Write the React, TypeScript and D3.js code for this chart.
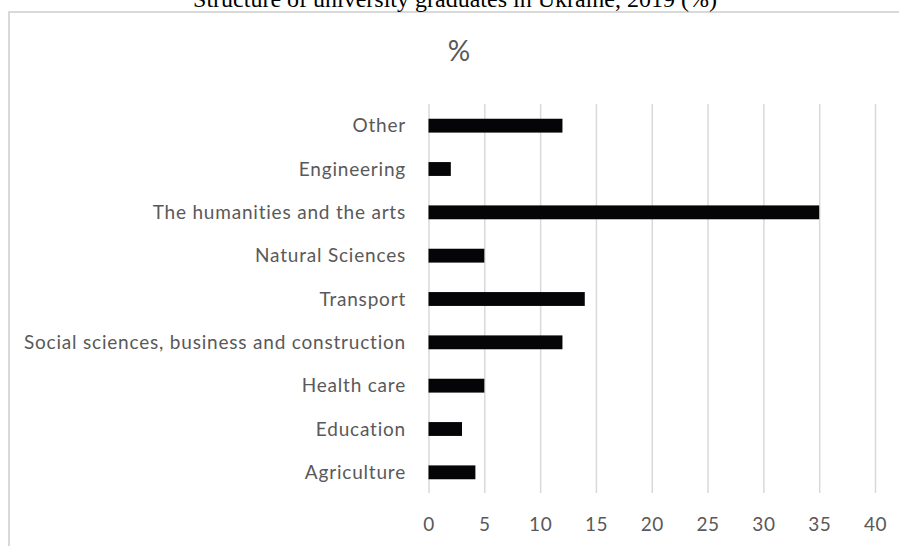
import React, { useRef, useEffect } from 'react';
import * as d3 from 'd3';

// top to bottom, as shown
const categories = [
  'Other',
  'Engineering',
  'The humanities and the arts',
  'Natural Sciences',
  'Transport',
  'Social sciences, business and construction',
  'Health care',
  'Education',
  'Agriculture',
];
const shares = [12, 2, 35, 5, 14, 12, 5, 3, 4.2];
const xTicks = [0, 5, 10, 15, 20, 25, 30, 35, 40];

const W = 899;
const H = 546;
const LABEL_FONT = 'Lato, "Open Sans", sans-serif';

const App: React.FC = () => {
  const svgRef = useRef<SVGSVGElement>(null);

  useEffect(() => {
    if (!svgRef.current) return;
    const svg = d3.select(svgRef.current);
    svg.selectAll('*').remove();

    const plot = { left: 428.5, right: 875, top: 104, bottom: 494 };

    const x = d3.scaleLinear().domain([0, 40]).range([plot.left, plot.right]);
    const y = d3.scaleBand<string>()
      .domain(categories)
      .range([plot.top, plot.bottom])
      .paddingInner(0.68)
      .paddingOuter(0.34);

    // chart area frame (only the top and left edges are in the crop)
    svg.append('path')
      .attr('d', `M9,${H + 5}V12H${W + 5}`)
      .attr('fill', 'none')
      .attr('stroke', '#d9d9d9')
      .attr('stroke-width', 2);

    // title, mostly cut off at the top
    svg.append('text')
      .attr('x', 455)
      .attr('y', 7)
      .attr('text-anchor', 'middle')
      .attr('font-family', '"Liberation Serif", "Times New Roman", serif')
      .attr('font-size', 24)
      .attr('fill', '#000')
      .text('Structure of university graduates in Ukraine, 2019 (%)');

    svg.append('text')
      .attr('x', 459)
      .attr('y', 61)
      .attr('text-anchor', 'middle')
      .attr('font-family', LABEL_FONT)
      .attr('font-size', 28)
      .attr('fill', '#595959')
      .text('%');

    // gridlines + tick labels
    const xAxis = svg.append('g')
      .attr('transform', `translate(0,${plot.bottom - 1})`)
      .call(d3.axisBottom(x).tickValues(xTicks).tickSize(-(plot.bottom - plot.top - 1)).tickPadding(25));
    xAxis.select('.domain').remove();
    xAxis.selectAll('.tick line').attr('stroke', '#d9d9d9').attr('stroke-width', 1.5);
    xAxis.selectAll('.tick text')
      .attr('fill', '#595959')
      .attr('font-family', LABEL_FONT)
      .attr('font-size', 19)
      .attr('letter-spacing', 0.5);

    // bars
    svg.append('g')
      .attr('fill', '#050508')
      .selectAll('rect')
      .data(categories)
      .join('rect')
      .attr('x', x(0))
      .attr('y', d => y(d)!)
      .attr('width', (d, i) => x(shares[i]) - x(0))
      .attr('height', y.bandwidth());

    // category labels
    svg.append('g')
      .selectAll('text')
      .data(categories)
      .join('text')
      .attr('x', 406)
      .attr('y', d => y(d)! + y.bandwidth() / 2)
      .attr('dy', '0.35em')
      .attr('text-anchor', 'end')
      .attr('font-family', LABEL_FONT)
      .attr('font-size', 19)
      .attr('letter-spacing', 0.8)
      .attr('fill', '#595959')
      .text(d => d);
  }, []);

  return (
    <div style={{ position: 'absolute', left: 0, top: 0, background: '#fff' }}>
      <svg ref={svgRef} width={W} height={H} style={{ display: 'block' }} />
    </div>
  );
};

export default App;
